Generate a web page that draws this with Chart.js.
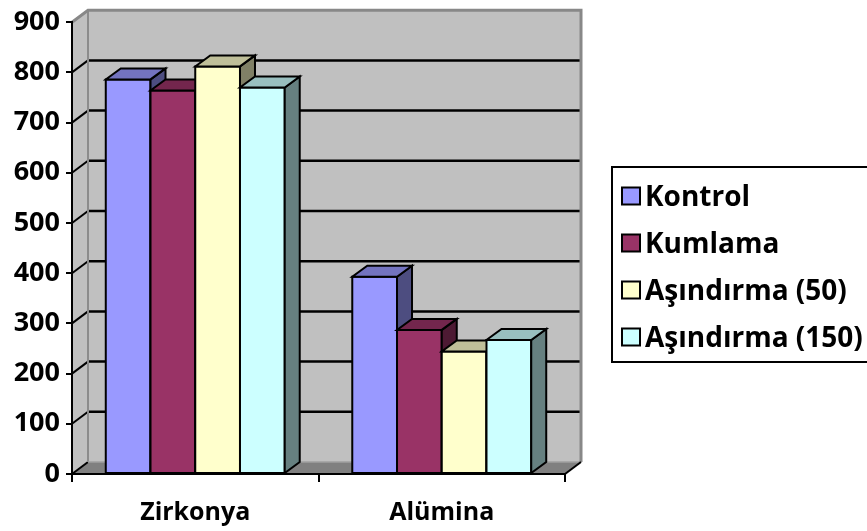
<!DOCTYPE html>
<html>
<head>
<meta charset="utf-8">
<title>Zirkonya / Alümina</title>
<script src="https://cdn.jsdelivr.net/npm/chart.js@4.4.1/dist/chart.umd.min.js"></script>
<style>
    html, body { margin: 0; padding: 0; background: #fff; }
    #wrap { width: 867px; height: 531px; }
</style>
</head>
<body>
<div id="wrap"><canvas id="chart" width="867" height="531"></canvas></div>
<script>
// ===== Data =====
const categories = ['Zirkonya', 'Alümina'];
const seriesNames = ['Kontrol', 'Kumlama', 'Aşındırma (50)', 'Aşındırma (150)'];
const kontrol = [786, 393];
const kumlama = [764, 287];
const asindirma50 = [812, 244];
const asindirma150 = [770, 267];
const yTicks = [0, 100, 200, 300, 400, 500, 600, 700, 800, 900];

// ===== Styling =====
const frontColors = ['#9999FF', '#993366', '#FFFFCC', '#CCFFFF'];
const FONT = "'Open Sans', 'DejaVu Sans', sans-serif";
const DX = 16, DY = 12;   // depth of the walls
const BX = 15, BY = 11;   // depth of each column

function shade(hex, f) {
    const n = parseInt(hex.slice(1), 16);
    const r = Math.round(((n >> 16) & 255) * f);
    const g = Math.round(((n >> 8) & 255) * f);
    const b = Math.round((n & 255) * f);
    return `rgb(${r},${g},${b})`;
}

function poly(ctx, pts, fill, stroke, lw) {
    ctx.beginPath();
    ctx.moveTo(pts[0][0], pts[0][1]);
    for (let i = 1; i < pts.length; i++) ctx.lineTo(pts[i][0], pts[i][1]);
    ctx.closePath();
    if (fill) { ctx.fillStyle = fill; ctx.fill(); }
    if (stroke) { ctx.strokeStyle = stroke; ctx.lineWidth = lw || 2; ctx.stroke(); }
}

function line(ctx, x1, y1, x2, y2, color, lw) {
    ctx.beginPath();
    ctx.moveTo(x1, y1);
    ctx.lineTo(x2, y2);
    ctx.strokeStyle = color;
    ctx.lineWidth = lw;
    ctx.stroke();
}

// ===== 3D walls, columns and legend =====
const depthPlugin = {
    id: 'depth',
    beforeDraw(chart) {
        const {ctx, chartArea: a, scales: {y}} = chart;
        ctx.save();
        // back wall
        ctx.fillStyle = '#C0C0C0';
        ctx.fillRect(a.left + DX, a.top - DY, a.right - a.left, a.bottom - a.top);
        // side wall
        poly(ctx, [[a.left, a.bottom], [a.left, a.top], [a.left + DX, a.top - DY], [a.left + DX, a.bottom - DY]], '#C0C0C0');
        // floor
        poly(ctx, [[a.left, a.bottom], [a.right, a.bottom], [a.right + DX, a.bottom - DY], [a.left + DX, a.bottom - DY]], '#808080');

        // gridlines on the walls
        yTicks.forEach(v => {
            const py = y.getPixelForValue(v);
            if (v > 0 && v < 900) {
                line(ctx, a.left + DX, py - DY, a.right + DX, py - DY, '#000', 2.5);
            }
            if (v < 900) line(ctx, a.left, py, a.left + DX, py - DY, '#000', 2);
        });

        // wall edges
        line(ctx, a.left + DX, a.top - DY, a.left + DX, a.bottom - DY, '#8C8C8C', 2);
        line(ctx, a.left + DX, a.bottom - DY, a.right + DX, a.bottom - DY, '#A0A0A0', 1.5);
        ctx.beginPath();
        ctx.moveTo(a.left, a.top);
        ctx.lineTo(a.left + DX, a.top - DY);
        ctx.lineTo(a.right + DX, a.top - DY);
        ctx.lineTo(a.right + DX, a.bottom - DY);
        ctx.strokeStyle = '#888';
        ctx.lineWidth = 3;
        ctx.stroke();
        line(ctx, a.right, a.bottom, a.right + DX, a.bottom - DY, '#000', 2);
        ctx.restore();
    },
    afterDatasetsDraw(chart) {
        const ctx = chart.ctx;
        ctx.save();
        ctx.lineJoin = 'miter';
        // left to right so each column hides the side of the one before it
        chart.data.datasets.forEach((ds, d) => {
            const front = frontColors[d];
            chart.getDatasetMeta(d).data.forEach(bar => {
                const {x, y, base, width} = bar.getProps(['x', 'y', 'base', 'width'], true);
                const l = x - width / 2, r = x + width / 2;
                poly(ctx, [[l, y], [r, y], [r, base], [l, base]], front, '#000', 2);
                poly(ctx, [[r, y], [r + BX, y - BY], [r + BX, base - BY], [r, base]], shade(front, 0.5), '#000', 2);
                poly(ctx, [[l, y], [r, y], [r + BX, y - BY], [l + BX, y - BY]], shade(front, 0.75), '#000', 2);
            });
        });
        ctx.restore();
    },
    afterDraw(chart) {
        const ctx = chart.ctx;
        const lx = 612, ly = 167, lw = 262, lh = 195;
        ctx.save();
        ctx.strokeStyle = '#000';
        ctx.lineWidth = 2;
        ctx.strokeRect(lx, ly, lw, lh);
        ctx.font = `bold 28px ${FONT}`;
        ctx.textAlign = 'left';
        ctx.textBaseline = 'alphabetic';
        chart.data.datasets.forEach((ds, i) => {
            const cy = ly + 29 + i * 47;
            ctx.fillStyle = frontColors[i];
            ctx.fillRect(622, cy - 8.5, 18, 17);
            ctx.strokeRect(622, cy - 8.5, 18, 17);
            ctx.fillStyle = '#000';
            ctx.fillText(ds.label, 645, cy + 10);
        });
        ctx.restore();
    }
};

// ===== Chart =====
const seriesValues = [kontrol, kumlama, asindirma50, asindirma150];

new Chart(document.getElementById('chart'), {
    type: 'bar',
    data: {
        labels: categories,
        datasets: seriesNames.map((name, i) => ({
            label: name,
            data: seriesValues[i],
            backgroundColor: frontColors[i],
            borderWidth: 0,
            barPercentage: 1,
            categoryPercentage: 0.726
        }))
    },
    options: {
        responsive: false,
        animation: false,
        devicePixelRatio: 1,
        layout: { padding: { top: 19, right: 302, left: 0, bottom: 0 } },
        plugins: { legend: { display: false }, tooltip: { enabled: false } },
        scales: {
            x: {
                grid: { drawOnChartArea: false, drawTicks: true, tickLength: 8, color: '#000', lineWidth: 2, offset: true },
                border: { display: true, color: '#000', width: 2 },
                ticks: { color: '#000', padding: 16, font: { family: FONT, weight: 'bold', size: 25 } },
                afterFit: s => { s.height = 57; }
            },
            y: {
                min: 0,
                max: 900,
                afterBuildTicks: s => { s.ticks = yTicks.map(v => ({value: v})); },
                grid: { drawOnChartArea: false, drawTicks: true, tickLength: 6, color: '#000', lineWidth: 2 },
                border: { display: true, color: '#000', width: 2 },
                ticks: { color: '#000', padding: 6, font: { family: FONT, weight: 'bold', size: 27 } },
                afterFit: s => { s.width = 72; }
            }
        }
    },
    plugins: [depthPlugin]
});
</script>
</body>
</html>
